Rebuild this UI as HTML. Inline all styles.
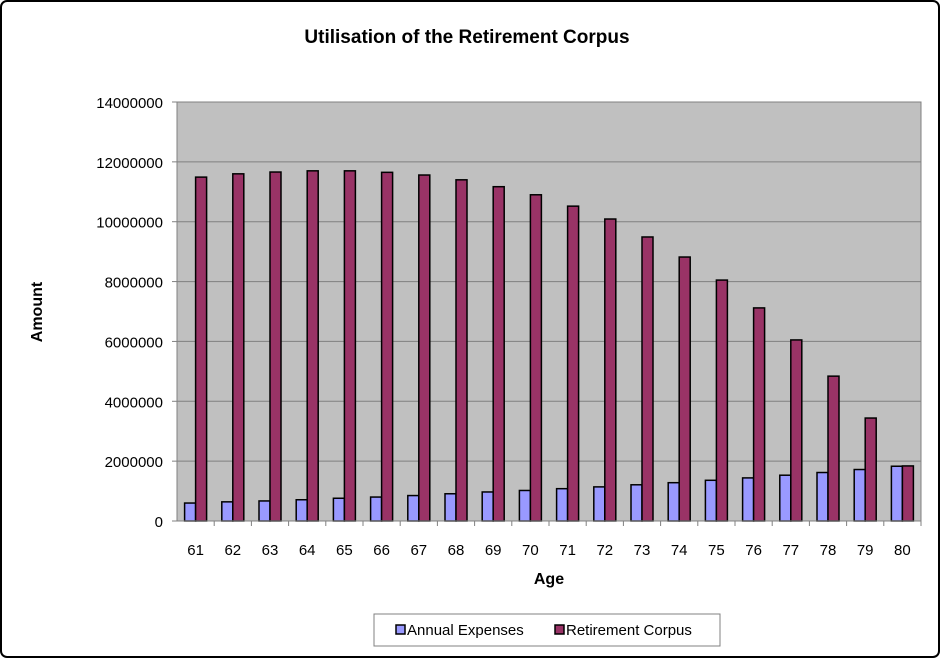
<!DOCTYPE html>
<html><head><meta charset="utf-8"><style>
body{margin:0;background:#fff;font-family:"Liberation Sans",Arial,sans-serif}
svg text{font-family:"Liberation Sans",Arial,sans-serif}
</style></head><body>
<svg id="chart" width="940" height="658" viewBox="0 0 940 658">
<rect x="1" y="1" width="938" height="656" rx="6" fill="#fff" stroke="#000" stroke-width="2"/>
<text x="467" y="43" font-size="19" font-weight="bold" text-anchor="middle">Utilisation of the Retirement Corpus</text>
<rect x="177" y="102" width="744" height="419" fill="#c0c0c0" stroke="#808080"/>
<g id="grid"></g><g id="bars"></g><g id="axes"></g>
<text x="42" y="312" font-size="16" font-weight="bold" text-anchor="middle" transform="rotate(-90 42 312)">Amount</text>
<text x="549" y="584" font-size="16" font-weight="bold" text-anchor="middle">Age</text>
<g>
<rect x="374" y="614" width="346" height="32" fill="#fff" stroke="#808080"/>
<rect x="396" y="625" width="9" height="9" fill="#9999ff" stroke="#000" stroke-width="1.5"/>
<text x="407" y="635" font-size="15">Annual Expenses</text>
<rect x="555" y="625" width="9" height="9" fill="#993366" stroke="#000" stroke-width="1.5"/>
<text x="566" y="635" font-size="15">Retirement Corpus</text>
</g>
</svg>
<script>
const ages=[61,62,63,64,65,66,67,68,69,70,71,72,73,74,75,76,77,78,79,80];
const annualExpenses=[600000,640000,670000,710000,760000,800000,850000,910000,970000,1020000,1080000,1140000,1210000,1280000,1360000,1440000,1530000,1620000,1720000,1830000];
const retirementCorpus=[11490000,11600000,11660000,11700000,11700000,11650000,11560000,11400000,11170000,10900000,10520000,10090000,9490000,8820000,8050000,7120000,6050000,4840000,3440000,1840000];
const yTicks=[0,2000000,4000000,6000000,8000000,10000000,12000000,14000000];
const NS="http://www.w3.org/2000/svg";
const X0=177,X1=921,Y0=521,Y1=102,YMAX=14000000;
const cw=(X1-X0)/ages.length;
function y(v){return Y0-(v/YMAX)*(Y0-Y1);}
function xc(i){return X0+cw*(i+0.5);}
function mk(t,a,p){const e=document.createElementNS(NS,t);for(const k in a)e.setAttribute(k,a[k]);p.appendChild(e);return e;}
const grid=document.getElementById('grid'),bars=document.getElementById('bars'),axes=document.getElementById('axes');
yTicks.forEach(v=>{
 if(v>0&&v<YMAX){const l=mk('line',{x1:X0,x2:X1,y1:y(v),y2:y(v),stroke:'#808080'},grid);
 
 }
 mk('line',{x1:X0-5,x2:X0,y1:y(v),y2:y(v),stroke:'#808080'},axes);
 const t=mk('text',{x:X0-14,y:y(v)+6,'font-size':15,'text-anchor':'end'},axes);t.textContent=v;
 
 
});
mk('line',{x1:X0,x2:X0,y1:Y1,y2:Y0,stroke:'#808080'},axes);
mk('line',{x1:X0,x2:X1,y1:Y0,y2:Y0,stroke:'#808080'},axes);
const bw=11;
ages.forEach((a,i)=>{
 mk('line',{x1:X0+cw*(i+1),x2:X0+cw*(i+1),y1:Y0,y2:Y0+5,stroke:'#808080'},axes);
 const t=mk('text',{x:xc(i),y:Y0+34,'font-size':15,'text-anchor':'middle'},axes);t.textContent=a;
 
 
 const b1=mk('rect',{x:xc(i)-bw,y:y(annualExpenses[i]),width:bw,height:Y0-y(annualExpenses[i]),fill:'#9999ff',stroke:'#000','stroke-width':1.5},bars);
 
 
 const b2=mk('rect',{x:xc(i),y:y(retirementCorpus[i]),width:bw,height:Y0-y(retirementCorpus[i]),fill:'#993366',stroke:'#000','stroke-width':1.5},bars);
 
 
});
</script>
</body></html>
